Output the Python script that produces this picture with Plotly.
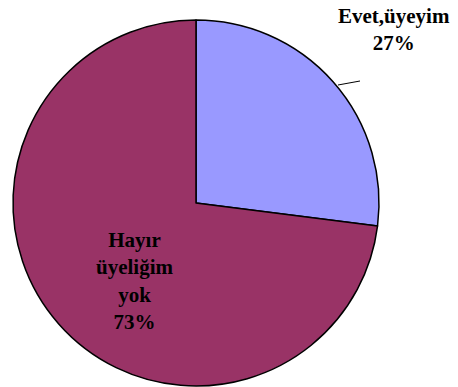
import plotly.graph_objects as go

labels = ['Evet,üyeyim', 'Hayır<br>üyeliğim<br>yok']
values = [27, 73]
colors = ['#9999FF', '#993366']

W, H = 458, 387
OFF = 8  # page body margin shifts the plot div by 8px


def px(x):
    return (x - OFF) / W


def py(y):
    return 1 - (y - OFF) / H


fig = go.Figure()

fig.add_trace(go.Pie(
    labels=labels, values=values, sort=False, direction='clockwise', rotation=0,
    marker=dict(colors=colors, line=dict(color='black', width=1.5)),
    textinfo='none', hoverinfo='label+percent', showlegend=False,
    domain=dict(x=[px(13), px(379)], y=[py(386), py(20)]),
))

# labels placed like the original (one outside with leader line, one inside)
total = sum(values)
pcts = [f"{round(v * 100 / total)}%" for v in values]
label_font = dict(family='Liberation Serif', size=21, color='black')
fig.add_annotation(text=f"<b>{labels[0]}<br>{pcts[0]}</b>", x=px(394), y=py(30),
                   xref='paper', yref='paper', showarrow=False, font=label_font,
                   xanchor='center', yanchor='middle')
fig.add_annotation(text=f"<b>{labels[1]}<br>{pcts[1]}</b>", x=px(135), y=py(281),
                   xref='paper', yref='paper', showarrow=False, font=label_font,
                   xanchor='center', yanchor='middle')
fig.add_shape(type='line', xref='paper', yref='paper',
              x0=px(338), y0=py(85), x1=px(360), y1=py(81),
              line=dict(color='black', width=1))

fig.update_layout(
    width=W, height=H, margin=dict(l=0, r=0, t=0, b=0),
    paper_bgcolor='white', plot_bgcolor='white',
)

fig.write_html('out.html')
